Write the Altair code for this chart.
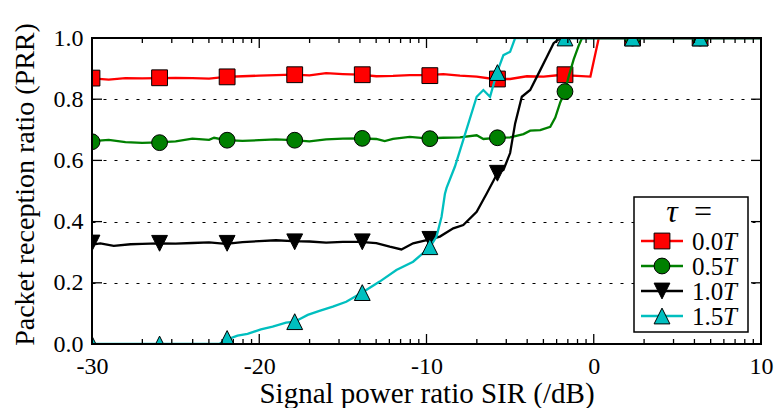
import altair as alt
import pandas as pd

FONT = "'Liberation Serif', 'Times New Roman', 'DejaVu Serif', serif"
W, H = 669, 306

# ---------------- data ----------------
series_labels = ["0.0", "0.5", "1.0", "1.5"]
series_colors = ["#ff0000", "#008000", "#000000", "#00bfbf"]
series_shapes = ["square", "circle", "M0,1L-1,-1L1,-1Z", "M0,-1L-1,1L1,1Z"]

red_x = [-30, -29, -28, -27, -26, -25, -24, -23, -22, -21, -20, -19, -18, -17, -16, -15,
         -14, -13, -12, -11, -10, -9, -8, -7, -6, -5, -4, -3, -2, -1, -0.2, 0.3, 10]
red_y = [0.868, 0.864, 0.869, 0.868, 0.869, 0.870, 0.869, 0.867, 0.873, 0.875, 0.877, 0.879,
         0.880, 0.878, 0.885, 0.882, 0.880, 0.875, 0.876, 0.879, 0.879, 0.882, 0.877, 0.874,
         0.866, 0.866, 0.875, 0.874, 0.879, 0.876, 0.874, 1.0, 1.0]

green_x = [-30, -29, -28, -27, -26, -25, -24, -23, -22.7, -22, -21, -20, -19, -18, -17, -16,
           -15, -14, -13, -12.5, -12, -11, -10, -9, -8, -7, -6.6, -6, -5, -4.2, -3.8, -3.2,
           -2.6, -2.3, -2.0, -1.72, -1.5, -1.2, -0.9, -0.7, 10]
green_y = [0.663, 0.667, 0.660, 0.657, 0.659, 0.662, 0.671, 0.667, 0.674, 0.666, 0.664, 0.666,
           0.669, 0.666, 0.662, 0.669, 0.671, 0.672, 0.670, 0.663, 0.670, 0.677, 0.672, 0.674,
           0.675, 0.682, 0.670, 0.673, 0.675, 0.686, 0.697, 0.699, 0.710, 0.740, 0.790, 0.825,
           0.874, 0.930, 0.975, 1.0, 1.0]

black_x = [-30, -29.5, -28.7, -27.7, -27, -26, -25, -24, -23, -22, -21, -20, -19, -18, -17,
           -16, -15, -14, -13, -12.2, -11.5, -10.8, -9.8, -9.2, -8.4, -7.8, -7.0, -6.4, -5.76,
           -5.4, -5.0, -4.7, -4.3, -3.8, -3.2, -2.8, -2.4, -2.0, 10]
black_y = [0.325, 0.329, 0.321, 0.326, 0.327, 0.329, 0.328, 0.330, 0.332, 0.327, 0.333, 0.336,
           0.339, 0.336, 0.335, 0.331, 0.334, 0.334, 0.330, 0.318, 0.309, 0.329, 0.342, 0.351,
           0.378, 0.389, 0.432, 0.492, 0.558, 0.569, 0.624, 0.721, 0.808, 0.830, 0.895, 0.939,
           0.983, 1.0, 1.0]

cyan_x = [-30, -22.4, -21.9, -21.3, -20.7, -19.9, -19.2, -18.4, -17.88, -17.1, -16.4, -15.6,
          -14.8, -13.84, -12.8, -11.8, -10.8, -9.8, -9.4, -9.1, -8.9, -8.8, -8.3, -7.8, -7.0,
          -6.6, -6.2, -5.8, -5.4, -5.0, -4.7, 10]
cyan_y = [0.0, 0.0, 0.015, 0.027, 0.033, 0.048, 0.057, 0.070, 0.073, 0.095, 0.108, 0.122,
          0.138, 0.168, 0.204, 0.242, 0.269, 0.316, 0.351, 0.416, 0.490, 0.510, 0.580, 0.667,
          0.808, 0.830, 0.808, 0.885, 0.944, 0.955, 1.0, 1.0]

marker_x = [-30, -25.96, -21.92, -17.88, -13.84, -9.80, -5.76, -1.72, 2.32, 6.36]
red_marker_y = [0.869, 0.870, 0.873, 0.880, 0.880, 0.877, 0.866, 0.880, 1.0, 1.0]
green_marker_y = [0.661, 0.658, 0.666, 0.666, 0.672, 0.671, 0.674, 0.825, 1.0, 1.0]
black_marker_y = [0.330, 0.329, 0.329, 0.334, 0.334, 0.342, 0.558, 1.0, 1.0, 1.0]
cyan_marker_y = [0.0, 0.0, 0.018, 0.073, 0.168, 0.318, 0.887, 1.0, 1.0, 1.0]

x_label_values = [-30, -20, -10, 0, 10]
y_label_values = [0.0, 0.2, 0.4, 0.6, 0.8, 1.0]
x_decades = [-30, -20, -10, 0]
x_minor_offsets = [3.01, 4.77, 6.02, 6.99, 7.78, 8.45, 9.03, 9.54]

lines = [(red_x, red_y), (green_x, green_y), (black_x, black_y), (cyan_x, cyan_y)]
markers = [red_marker_y, green_marker_y, black_marker_y, cyan_marker_y]

# ---------------- scales / axes ----------------
xscale = alt.Scale(domain=[-30, 10], nice=False, zero=False)
yscale = alt.Scale(domain=[0, 1], nice=False, zero=False)

xaxis = alt.Axis(values=x_label_values, labelExpr="datum.value + ''", ticks=False,
                 domain=False, grid=False, labelFont=FONT, labelFontSize=24,
                 labelColor="black", labelPadding=29, labelBaseline="alphabetic",
                 labelFlush=False,
                 title="Signal power ratio SIR (/dB)", titleFont=FONT, titleFontSize=29,
                 titleFontWeight="normal", titleColor="black",
                 titleBaseline="alphabetic", titleY=58)
yaxis = alt.Axis(values=y_label_values, format=".1f", ticks=False, domain=False,
                 grid=True, gridColor="black", gridDash=[3, 8], gridWidth=1.2,
                 labelFont=FONT, labelFontSize=24, labelColor="black", labelPadding=9,
                 labelFlush=False,
                 title="Packet reception ratio (PRR)", titleFont=FONT, titleFontSize=28,
                 titleFontWeight="normal", titleColor="black",
                 titleBaseline="alphabetic", titleX=-59, titleY=146)


def X(f):
    return alt.X(f, type="quantitative", scale=xscale, axis=xaxis)


def Y(f):
    return alt.Y(f, type="quantitative", scale=yscale, axis=yaxis)


layers = []
for i in range(4):
    c = series_colors[i]
    ldf = pd.DataFrame({"x": lines[i][0], "y": lines[i][1]})
    mdf = pd.DataFrame({"x": marker_x, "y": markers[i]})
    layers.append(alt.Chart(ldf).mark_line(color=c, strokeWidth=2.3, clip=True)
                  .encode(x=X("x"), y=Y("y")))
    layers.append(alt.Chart(mdf).mark_point(shape=series_shapes[i], filled=True, fill=c,
                                            stroke="black", strokeWidth=1, size=250,
                                            opacity=1, clip=True)
                  .encode(x=X("x"), y=Y("y")))

# ---------------- inward ticks ----------------
x_minor = [d + o for d in x_decades for o in x_minor_offsets]
xmaj = pd.DataFrame({"t": x_label_values})
xmin = pd.DataFrame({"t": x_minor})
ymaj = pd.DataFrame({"t": y_label_values})
tick = dict(color="black", strokeWidth=1.3)
layers += [
    alt.Chart(xmaj).mark_rule(**tick).encode(x=X("t"), y=alt.value(H), y2=alt.value(H - 10)),
    alt.Chart(xmaj).mark_rule(**tick).encode(x=X("t"), y=alt.value(0), y2=alt.value(10)),
    alt.Chart(xmin).mark_rule(**tick).encode(x=X("t"), y=alt.value(H), y2=alt.value(H - 5)),
    alt.Chart(xmin).mark_rule(**tick).encode(x=X("t"), y=alt.value(0), y2=alt.value(5)),
    alt.Chart(ymaj).mark_rule(**tick).encode(y=Y("t"), x=alt.value(0), x2=alt.value(10)),
    alt.Chart(ymaj).mark_rule(**tick).encode(y=Y("t"), x=alt.value(W - 10), x2=alt.value(W)),
]

# ---------------- legend ----------------
one = pd.DataFrame({"a": [0]})
layers.append(alt.Chart(one).mark_rect(fill="white", stroke="black", strokeWidth=1.5)
              .encode(x=alt.value(542), x2=alt.value(656), y=alt.value(159), y2=alt.value(294)))
layers.append(alt.Chart(one).mark_text(text="τ", font=FONT, fontSize=32, fontStyle="italic",
                                       align="center", baseline="alphabetic", color="black")
              .encode(x=alt.value(580), y=alt.value(184)))
layers.append(alt.Chart(one).mark_text(text="=", font=FONT, fontSize=32,
                                       align="center", baseline="alphabetic", color="black")
              .encode(x=alt.value(611), y=alt.value(184)))
for i in range(4):
    c = series_colors[i]
    yy = 203 + 25 * i
    layers.append(alt.Chart(one).mark_rule(color=c, strokeWidth=2.3)
                  .encode(x=alt.value(549), x2=alt.value(591), y=alt.value(yy)))
    layers.append(alt.Chart(one).mark_point(shape=series_shapes[i], filled=True, fill=c,
                                            stroke="black", strokeWidth=1, size=250, opacity=1)
                  .encode(x=alt.value(570), y=alt.value(yy)))
    layers.append(alt.Chart(one).mark_text(text=series_labels[i], font=FONT, fontSize=25,
                                           align="left", baseline="middle", color="black")
                  .encode(x=alt.value(600), y=alt.value(yy + 1)))
    layers.append(alt.Chart(one).mark_text(text="T", font=FONT, fontSize=25, fontStyle="italic",
                                           align="left", baseline="middle", color="black")
                  .encode(x=alt.value(631), y=alt.value(yy + 1)))

# ---------------- frame ----------------
layers.append(alt.Chart(one).mark_rect(fillOpacity=0, stroke="black", strokeWidth=2)
              .encode(x=alt.value(0), x2=alt.value(W), y=alt.value(0), y2=alt.value(H)))

chart = alt.layer(*layers).properties(
    width=W, height=H,
    autosize=alt.AutoSizeParams(type="none"),
    padding={"left": 92, "top": 38, "right": 15, "bottom": 64},
    background="white",
).configure_view(stroke=None)

chart.save("out.html", embed_options={"renderer": "svg", "actions": False})
